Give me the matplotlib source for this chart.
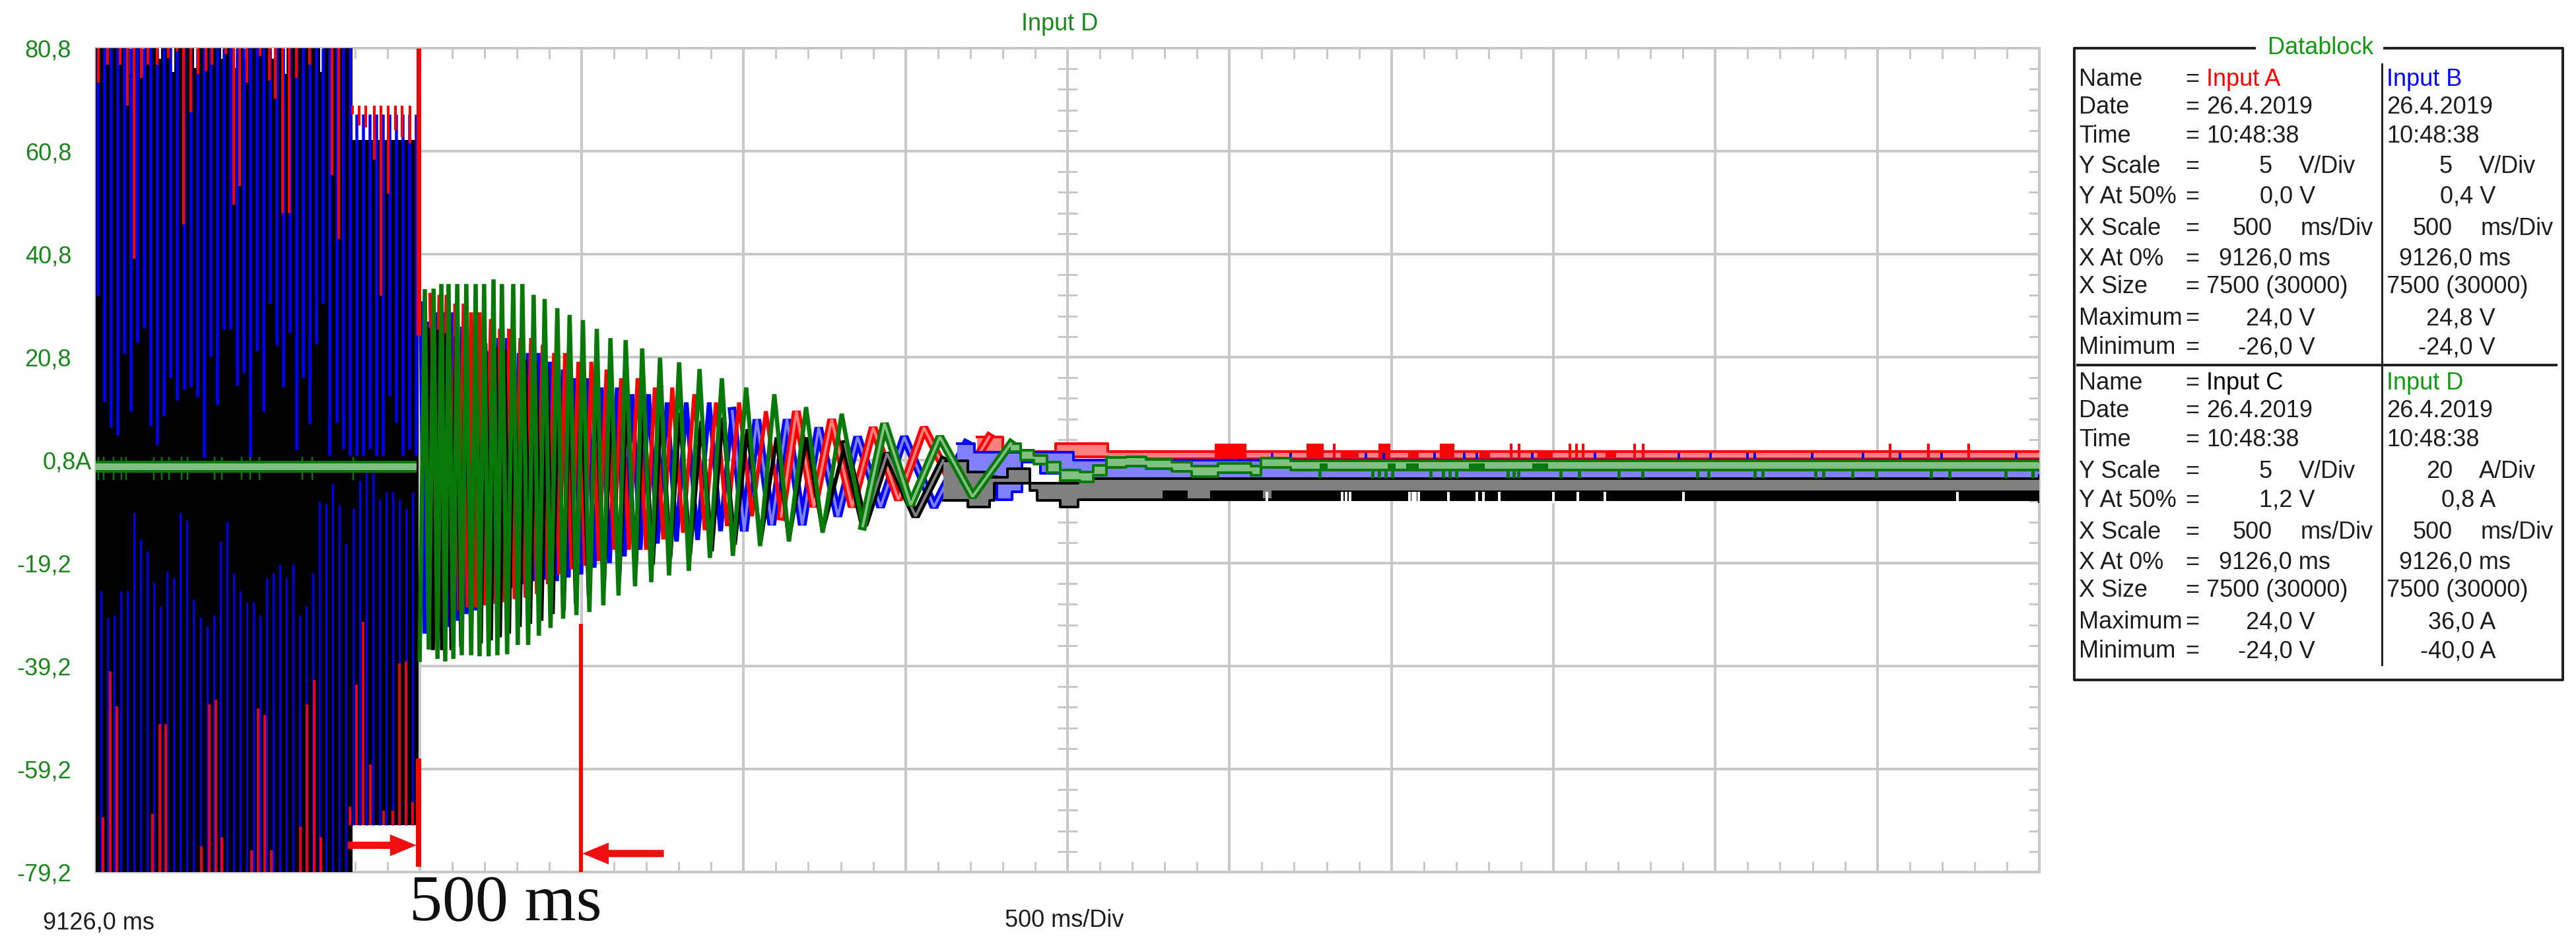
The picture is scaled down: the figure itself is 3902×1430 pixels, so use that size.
import matplotlib
matplotlib.use('Agg')
import matplotlib.pyplot as plt
import numpy as np
from matplotlib.ticker import MultipleLocator, FixedLocator

PX = 0.72  # one pixel in points at dpi 100
RED, BLUE, DKBLUE, GREEN = '#ff0000', '#0000ff', '#0000e0', '#087808'
PINK, PALEBLUE, GREY, PALEGREEN = '#ff8080', '#8080ff', '#808080', '#80c080'
GRIDC = '#c8c8c8'
plt.rcParams['font.family'] = ['Liberation Sans', 'DejaVu Sans']

# time is ms after the start of the trace, y is the Input D scale in A
y_labels = ['-79,2', '-59,2', '-39,2', '-19,2', '0,8A', '20,8', '40,8', '60,8', '80,8']
y_ticks = [-79.2, -59.2, -39.2, -19.2, 0.8, 20.8, 40.8, 60.8, 80.8]
cursor_ms = [996, 1498]

# before the fault: one stripe per 50 Hz cycle
upper_blue_end = [32.7, 12.2, 7.2, 5.7, 21.4, 10.3, 23.6, 26.4, 7.5, 3.7, 9.4, 16.8, 12.5, 14.5, 15, 13.1, 1.3,
                  20.9, 11.6, 26.2, 26.2, 15.3, 17.7, 1.3, 22.1, 10.3, 31.2, 23.1, 15, 25.5, 2.9, 16.8, 7.9,
                  23.4, 31.2, 1.7, 8.1, 3, 1.7, 1.7, 1.7, 3, 1.7, 1.7, 13.2, 8.1, 1.7, 3, 1.7]
upper_blue_top = [80.8] * 39 + [68.0] * 10
lower_blue_top = [-24.6, -29.7, -29.3, -24.6, -24.6, -9.5, -14.6, -16.9, -22.9, -27.5, -20.7, -22, -9.5, -10.9,
                  -26.2, -29.7, -31.4, -29.3, -15, -11.1, -21.1, -24.6, -26.8, -26.8, -29.3, -22, -21.1, -19.5,
                  -22, -19.5, -29.3, -27.5, -21.1, -7.3, -7.7, -3.8, -7.9, -15.4, -8.6, -3.2, -1.6, -1.6, -6.8,
                  -5.4, -5.4, -6.8, -8.6, -5.4]
lower_blue_end = [-79.2] * 38 + [-70.1] * 10

black_ms = [0, 793, 793, 996]
black_top = [80.8, 80.8, 63.0, 63.0]
black_bottom = [-79.2, -79.2, -70.1, -70.1]

notch_ms = [108, 146, 197, 238, 307, 391, 432, 460, 547, 584, 696]
notch_a = [75.8, 75.8, 78.8, 76.2, 77, 78.8, 77, 78.8, 78.8, 75.8, 76.2]

red_up_ms = [8, 37, 75, 98, 118, 140, 161, 189, 224, 250, 272, 293, 315, 341, 358, 402, 425, 445, 467, 508, 535,
             555, 577, 598, 620, 661, 730, 750]
red_up_end = [74.1, 77.6, 77.6, 69.6, 39.9, 75, 77.6, 77.6, 78.9, 80.2, 46.6, 68.4, 75.8, 76.3, 77.6, 79.6, 50.4,
              54, 74.1, 79.3, 74.5, 70.9, 48.7, 48.7, 75, 77.6, 56.2, 43.8]
red_step_ms = [793, 813, 833, 860, 880, 902, 925, 945, 970]
red_step_end = [68, 65.8, 65.4, 59.1, 32.7, 52.6, 64.9, 63.5, 62.3]

red_low_ms = [22, 45, 65, 175, 197, 217, 327, 350, 370, 390, 480, 502, 522, 543, 632, 652, 675, 695, 785, 805,
              825, 848, 888, 917, 937, 957, 978]
red_low_top = [-68.6, -40.2, -47, -67.9, -50.5, -50.5, -74.2, -46.6, -45.7, -72.4, -75, -47.4, -48.7, -75, -70.4,
               -46.6, -41.9, -72.4, -66.5, -42.8, -30.6, -58.3, -67.3, -67.3, -38.7, -38.3, -65.6]
red_low_end = [-79.2] * 18 + [-70.1] * 9

band_spike_ms = [8, 24, 55, 79, 93, 179, 203, 226, 264, 284, 366, 390, 451, 476, 506, 638, 669, 795]

# after the fault: turning points of the decaying oscillation
d_peak_ms = [1016, 1043, 1067, 1089, 1116, 1144, 1173, 1199, 1228, 1254, 1289, 1317, 1352, 1386, 1425, 1463, 1504,
             1547, 1589, 1636, 1687, 1742, 1801, 1864, 1933, 2008, 2095, 2193, 2303, 2435, 2606, 2825]
d_peak_a = [34, 34.1, 35, 35, 35, 35, 35, 35, 35.9, 35, 35, 35, 32.9, 32.1, 30.3, 29, 28, 26.3, 24.5, 24.1, 22.5,
            20.7, 19.8, 18.5, 16.7, 14.9, 13.6, 11.1, 9.8, 7.9, 5.3, 4]
d_trough_ms = [1000, 1028, 1055, 1079, 1104, 1130, 1159, 1185, 1213, 1240, 1270, 1303, 1335, 1368, 1404, 1443, 1484,
               1524, 1567, 1614, 1665, 1715, 1770, 1831, 1896, 1967, 2051, 2140, 2244, 2368, 2516, 2707]
d_trough_a = [-38, -36, -37.8, -38.3, -37.8, -37.1, -37.1, -37.3, -37.3, -37.1, -36.9, -35.1, -35.1, -33.3, -31.8,
              -30, -29.3, -28.7, -27.4, -25.5, -23.7, -22.9, -21.6, -20.7, -18.2, -17.8, -15.9, -15, -13.3, -12,
              -7.9, -6.3]

a_peak_ms = [1033, 1061, 1083, 1110, 1136, 1159, 1185, 1220, 1248, 1276, 1311, 1344, 1380, 1415, 1449, 1490, 1530,
             1577, 1622, 1673, 1726, 1780, 1848, 1915, 1986, 2069, 2163, 2272, 2400, 2557, 2758]
a_peak_a = [32.9, 32.9, 32.9, 31.2, 31.2, 29.5, 29.5, 28.2, 26.3, 26.3, 24.5, 24.5, 23.2, 21.6, 21.6, 19.9, 19.9,
            18.4, 16.7, 16.7, 14.9, 14.9, 13.6, 12, 12, 10.3, 10.3, 8.7, 7.1, 7.1, 5.3]
a_trough_ms = [1047, 1071, 1098, 1122, 1148, 1173, 1201, 1234, 1262, 1293, 1327, 1362, 1396, 1431, 1469, 1510, 1553,
               1600, 1646, 1699, 1752, 1813, 1880, 1949, 2026, 2116, 2217, 2335, 2478, 2656]
a_trough_a = [-28.4, -28.4, -28.4, -28.4, -27.8, -27.8, -27.4, -27.1, -26.8, -26.2, -25.9, -25.2, -23.3, -21.4,
              -20.4, -19.7, -18.8, -16.6, -16.6, -16.6, -14.6, -13.3, -12.8, -12, -10.1, -10.1, -8.3, -8.3, -6.9,
              -5.4]

b_peak_ms = [1004, 1030, 1057, 1081, 1104, 1132, 1159, 1193, 1215, 1244, 1270, 1307, 1335, 1366, 1402, 1443, 1478,
             1518, 1561, 1610, 1656, 1707, 1764, 1823, 1894, 1965, 2041, 2134, 2232, 2352, 2496, 2687]
b_peak_a = [31.2, 27.7, 29.5, 29.5, 29.5, 26.7, 23.7, 22, 22, 24.5, 24.5, 21.6, 21.6, 21.6, 19.9, 18.4, 16.7, 16.7,
            14.9, 14.9, 13.6, 13.6, 12, 12, 12, 10.3, 8.7, 8.7, 7.1, 5.3, 5.3, 4]
b_trough_ms = [1016, 1043, 1069, 1091, 1116, 1144, 1173, 1201, 1228, 1254, 1289, 1321, 1352, 1384, 1423, 1459, 1498,
               1539, 1586, 1632, 1681, 1734, 1793, 1858, 1929, 2002, 2087, 2181, 2291, 2423, 2588]
b_trough_a = [-32.9, -32.9, -32.3, -31.6, -30.4, -29.1, -28.4, -27.1, -25.9, -24.6, -24, -23.3, -22.7, -22.4, -22.7,
              -22, -21.4, -20.1, -19.2, -17.9, -16.6, -15.4, -15, -14.7, -13, -13, -11.8, -11.8, -10.1, -8.3, -8.3]

c_peak_ms = [1026, 1055, 1083, 1112, 1142, 1173, 1203, 1234, 1262, 1291, 1325, 1358, 1392, 1427, 1463, 1500, 1545,
             1592, 1640, 1691, 1746, 1803, 1870, 1935, 2012, 2102, 2195, 2313, 2443, 2616]
c_peak_a = [26.1, 26.1, 25.4, 24.8, 24.8, 24.4, 23.5, 22.9, 22.2, 21.6, 20.3, 19.6, 19, 18, 17.3, 16.8, 15.2, 13.6,
            12.6, 12, 10.9, 10, 8.5, 9, 6.8, 5.2, 5.2, 3.9, 2.1, 0.7]
c_trough_ms = [1041, 1069, 1098, 1128, 1159, 1189, 1220, 1248, 1276, 1309, 1341, 1376, 1411, 1445, 1482, 1522, 1569,
               1616, 1667, 1720, 1774, 1835, 1902, 1973, 2053, 2140, 2244, 2372, 2531]
c_trough_a = [-36.1, -36.1, -36.1, -35.5, -34.8, -34.8, -34.2, -33.6, -32.9, -31.6, -31, -30.4, -29.1, -28.4, -27.1,
              -25.9, -24, -22.7, -20.7, -19.5, -18.2, -17.5, -16.9, -15.6, -15, -14.7, -13, -11.8, -10.1]

# settled part: min/max bands
a_tail_ms = [2720, 2801, 2963, 3014, 3124, 6000]
a_tail_hi = [5.3, 2.5, 4, 4, 2.5, 2.5]
a_tail_lo = [1.1, 1.1, 1.1, 1.4, 1.1, 1.1]
a_bump_start = [3455, 3738, 3959, 4150]
a_bump_end = [3553, 3791, 3996, 4195]
a_spike_ms = [3823, 4370, 4394, 4551, 4572, 4591, 4750, 4778, 5540, 5658, 5782]
a_solid_start = [3843, 4051, 4272, 4451, 4660]
a_solid_end = [3898, 4085, 4305, 4498, 4693]

b_tail_ms = [2659, 2713, 2781, 2829, 2860, 2917, 2978, 3018, 6000]
b_tail_hi = [4, 2.3, 2.3, 2.3, 2.3, 2.3, 2.3, 0.8, 0.8]
b_tail_lo = [-3.4, -2.4, -6.9, -5.4, 0.4, -1.8, -2.4, -2.8, -2.1]
b_spike_ms = [3632, 3689, 3921, 3976, 4134, 4224, 4264, 4435, 4628, 4888, 4986, 5100, 5122, 5299, 5455, 5569, 5699,
              5929]

c_tail_ms = [2616, 2693, 2760, 2774, 2815, 2884, 2906, 2978, 3032, 6000]
c_tail_hi = [0.7, -1.5, -2.5, -2.5, -0.9, -3.7, -3.7, -3.7, -2.8, -2.4]
c_tail_lo = [-7, -8.3, -7, -3.7, -3.7, -5.1, -7, -8.3, -6.9, -7.3]
c_block_start = [3293, 3441, 3630]
c_block_end = [3370, 3604, 6000]
c_slit_ms = [3616, 3848, 3860, 3872, 4055, 4065, 4075, 4085, 4175, 4264, 4284, 4333, 4500, 4575, 4658, 4902, 5748]

d_tail_ms = [2825, 2855, 2896, 2937, 2978, 3039, 3079, 3120, 3181, 3242, 3323, 3384, 3465, 3567, 3597, 3689, 6000]
d_tail_hi = [4, 2.7, 1.7, 0.4, -1.1, -1.5, -0.2, 1.3, 1.4, 0.9, 0.4, -0.4, 0.2, -0.4, 1.2, 0.7, 0.5]
d_tail_lo = [2.5, 0.8, 0, -1.6, -3.2, -3.4, -2.1, -0.6, -0.4, -0.9, -1.4, -2.4, -1.6, -2.1, -0.6, -1.1, -1.3]
d_block_start = [3779, 3988, 4045, 4240, 4435]
d_block_end = [3803, 4012, 4085, 4288, 4483]
d_spike_ms = [3779, 3942, 3962, 3982, 4002, 4120, 4160, 4180, 4201, 4360, 4377, 4393, 4522, 4579, 4701, 4775, 4945,
              4978, 5122, 5146, 5309, 5333, 5423, 5496, 5666, 5723, 5897, 5979]

# datablock text
db_names = ['Name', 'Date', 'Time', 'Y Scale', 'Y At 50%', 'X Scale', 'X At 0%', 'X Size', 'Maximum', 'Minimum']
db_date, db_clock, db_size = '26.4.2019', '10:48:38', '7500 (30000)'
input_names = ['Input A', 'Input B', 'Input C', 'Input D']
input_colors = [RED, BLUE, 'black', '#119a11']
y_scale = [('5', 'V/Div'), ('5', 'V/Div'), ('5', 'V/Div'), ('20', 'A/Div')]
y_at50 = ['0,0 V', '0,4 V', '1,2 V', '0,8 A']
y_max = ['24,0 V', '24,8 V', '24,0 V', '36,0 A']
y_min = ['-26,0 V', '-24,0 V', '-24,0 V', '-40,0 A']
block_rows = [[120, 163, 207, 253, 298, 347, 392, 435, 483, 527], [580, 623, 667, 715, 758, 807, 852, 895, 943, 987]]

fig = plt.figure(figsize=(39.02, 14.30), dpi=100)
ax = fig.add_axes([145 / 3902, 1 - 1321 / 1430, 2944 / 3902, 1248 / 1430])
ax.set_xlim(0, 6000)
ax.set_ylim(-79.2, 80.8)
ax.set_axisbelow(True)
for s in ax.spines.values():
    s.set_color(GRIDC)
    s.set_linewidth(4 * PX)
    s.set_zorder(0.6)

ax.xaxis.set_major_locator(MultipleLocator(500))
ax.xaxis.set_minor_locator(MultipleLocator(100))
ax.set_xticklabels([])
ax.set_yticks(y_ticks)
ax.set_yticklabels(y_labels, color='#1a861a', fontsize=26)
ax.yaxis.set_minor_locator(FixedLocator(np.arange(-79.2, 81, 4)))
ax.grid(True, which='major', color=GRIDC, lw=4 * PX)
ax.tick_params(which='major', length=0, pad=37 * PX)
ax.tick_params(which='minor', direction='in', length=16 * PX, width=3 * PX, color=GRIDC, top=True, right=True)
ax.xaxis.set_tick_params(which='major', labelbottom=False)
ax.yaxis.get_major_ticks()[4].set_pad(6 * PX)
ax.plot([3000] * 41, np.arange(-79.2, 81, 4), ls='none', marker='_', ms=30 * PX, mew=3 * PX, color=GRIDC, zorder=1)

# fault period
up_ms = np.linspace(6, 6 + 48 * 20.47, 49)
low_ms = np.linspace(16, 16 + 47 * 20.47, 48)
ax.fill_between(black_ms, black_bottom, black_top, color='black', lw=0, zorder=2)
ax.vlines(notch_ms, notch_a, 80.8, color='white', lw=4 * PX, zorder=2.1)
ax.vlines(up_ms, upper_blue_end, upper_blue_top, color=BLUE, lw=4.5 * PX, zorder=2.2)
ax.vlines(low_ms, lower_blue_end, lower_blue_top, color=DKBLUE, lw=3.4 * PX, zorder=2.2)
ax.vlines(red_up_ms, red_up_end, 80.8, color=RED, lw=4 * PX, zorder=2.3)
ax.vlines(red_step_ms, red_step_end, 69.6, color=RED, lw=4 * PX, zorder=2.3)
ax.vlines(red_low_ms, red_low_end, red_low_top, color='#e8001c', lw=4 * PX, zorder=2.3)
ax.fill_between([0, 990], -1.6, 0.7, color=GREEN, lw=0, zorder=2.4)
ax.vlines(band_spike_ms, -3, 1.5, color=GREEN, lw=2.5 * PX, zorder=2.35)
ax.fill_between([0, 990], -1.1, 0.2, color=PALEGREEN, lw=0, zorder=2.5)


def zigzag(peak_ms, peak_a, trough_ms, trough_a, color, pale, z, width, late_ms):
    t = np.array(peak_ms + trough_ms)
    a = np.array(peak_a + trough_a)
    order = np.argsort(t)
    t, a = t[order], a[order]
    ax.plot(t, a, color=color, lw=width * PX, zorder=z, solid_joinstyle='bevel')
    late = t >= late_ms
    ax.plot(t[late], a[late], color=color, lw=13 * PX, zorder=z, solid_joinstyle='bevel')
    ax.plot(t[late], a[late], color=pale, lw=4 * PX, zorder=z + 0.01, solid_joinstyle='bevel')


def band(t, hi, lo, color, pale, z):
    ax.fill_between(t, lo, hi, step='post', color=pale, lw=0, zorder=z)
    ax.plot(t, hi, drawstyle='steps-post', color=color, lw=4 * PX, zorder=z)
    ax.plot(t, lo, drawstyle='steps-post', color=color, lw=4 * PX, zorder=z)


zigzag(b_peak_ms, b_peak_a, b_trough_ms, b_trough_a, BLUE, PALEBLUE, 3.0, 7, 1950)
zigzag(a_peak_ms, a_peak_a, a_trough_ms, a_trough_a, RED, PINK, 3.1, 6, 2100)
band(a_tail_ms, a_tail_hi, a_tail_lo, RED, PINK, 3.0)
for t0, t1 in zip(a_bump_start, a_bump_end):
    ax.fill_between([t0, t1], 1.1, 4, color=RED, lw=0, zorder=3.05)
for t0, t1 in zip(a_solid_start, a_solid_end):
    ax.fill_between([t0, t1], 1.1, 2.5, color=RED, lw=0, zorder=3.05)
ax.vlines(a_spike_ms, 1.1, 4, color=RED, lw=4 * PX, zorder=3.05)

band(b_tail_ms, b_tail_hi, b_tail_lo, BLUE, PALEBLUE, 3.2)
ax.vlines(b_spike_ms, 0.8, 2.2, color=BLUE, lw=4 * PX, zorder=3.25)

zigzag(c_peak_ms, c_peak_a, c_trough_ms, c_trough_a, 'black', GREY, 3.4, 6, 2250)
band(c_tail_ms, c_tail_hi, c_tail_lo, 'black', GREY, 3.4)
for t0, t1 in zip(c_block_start, c_block_end):
    ax.fill_between([t0, t1], -7.1, -5.1, color='black', lw=0, zorder=3.45)
ax.vlines(c_slit_ms, -7.5, -5.4, color='white', lw=4 * PX, zorder=3.46)

zigzag(d_peak_ms, d_peak_a, d_trough_ms, d_trough_a, GREEN, PALEGREEN, 3.6, 6.5, 2350)
band(d_tail_ms, d_tail_hi, d_tail_lo, GREEN, PALEGREEN, 3.6)
for t0, t1 in zip(d_block_start, d_block_end):
    ax.fill_between([t0, t1], -0.9, 0.2, color=GREEN, lw=0, zorder=3.65)
ax.vlines(d_spike_ms, -2.6, -1.3, color=GREEN, lw=5 * PX, zorder=3.65)

# hand drawn marks on top of the screenshot
ax.vlines(cursor_ms[0], 25, 80.8, color=RED, lw=7 * PX, zorder=5)
ax.vlines(cursor_ms[0], -78.2, -57.2, color=RED, lw=8 * PX, zorder=5)
ax.vlines(cursor_ms[1], -79.2, -31, color=RED, lw=6 * PX, zorder=5)
arrow = dict(facecolor='#f01010', edgecolor='none', width=11 * PX, headwidth=33 * PX, headlength=40 * PX, shrink=0)
ax.annotate('', xy=(990, -74), xytext=(778, -74), arrowprops=arrow, zorder=5)
ax.annotate('', xy=(1502, -75.6), xytext=(1754, -75.6), arrowprops=arrow, zorder=5)

# text outside the plot, placed in image pixels
over = fig.add_axes([0, 0, 1, 1], facecolor='none')
over.set_xlim(0, 3902)
over.set_ylim(1430, 0)
over.axis('off')


def label(x, y, s, color='#1c1c1c', ha='left'):
    over.text(x, y, s, color=color, ha=ha, va='center', fontsize=26)


label(1605, 37, 'Input D', color='#1a861a', ha='center')
label(65, 1398, '9126,0 ms')
label(1522, 1394, '500 ms/Div')
over.text(620, 1394, '500 ms', family='Liberation Serif', fontsize=72, va='baseline', color='#101010')

# datablock frame
over.plot([3415, 3142, 3142, 3882, 3882, 3612], [73, 73, 1030, 1030, 73, 73], color='#222222', lw=4 * PX)
over.plot([3608, 3608], [97, 1007], color='#222222', lw=3 * PX)
over.plot([3147, 3872], [553, 553], color='#222222', lw=4 * PX)
label(3515, 73, 'Datablock', color='#119a11', ha='center')

for b, rows in enumerate(block_rows):
    for name, y in zip(db_names, rows):
        label(3149, y, name)
        label(3310, y, '=')
    for col, dx in enumerate([0, 273]):
        ch = b * 2 + col
        label(3342 + dx, rows[0], input_names[ch], color=input_colors[ch])
        label(3342 + dx, rows[1], db_date)
        label(3342 + dx, rows[2], db_clock)
        label(3442 + dx, rows[3], y_scale[ch][0], ha='right')
        label(3482 + dx, rows[3], y_scale[ch][1])
        label(3507 + dx, rows[4], y_at50[ch], ha='right')
        label(3442 + dx, rows[5], '500', ha='right')
        label(3485 + dx, rows[5], 'ms/Div')
        label(3530 + dx, rows[6], '9126,0 ms', ha='right')
        label(3342 + dx, rows[7], db_size)
        label(3507 + dx, rows[8], y_max[ch], ha='right')
        label(3507 + dx, rows[9], y_min[ch], ha='right')

fig.savefig('out.png', dpi=100)
